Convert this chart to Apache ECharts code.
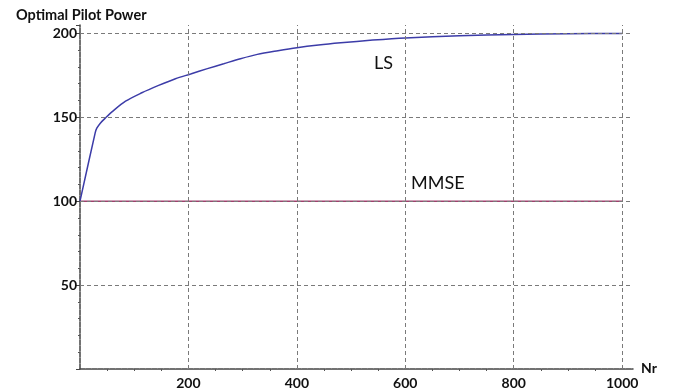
<!DOCTYPE html>
<html>
<head>
<meta charset="utf-8">
<script src="https://cdn.jsdelivr.net/npm/echarts@6/dist/echarts.min.js"></script>
<style>html,body{margin:0;padding:0;background:#fff}#c{width:682px;height:390px}</style>
</head>
<body>
<div id="c"></div>
<script>
// Data
const lsNr  = [0, 28, 31, 37.5, 47, 60, 84, 114, 145, 176, 204, 235, 265, 296, 327, 365, 400, 440, 481, 540, 600, 700, 800, 900, 1000];
const lsVal = [100, 140.7, 143.5, 146.5, 149.6, 153.5, 159.6, 164.6, 169, 173, 175.8, 179, 181.9, 184.9, 187.5, 189.7, 191.5, 193.1, 194.4, 196, 197.3, 198.6, 199.4, 199.8, 200];
const mmseNr  = [0, 1000];
const mmseVal = [100, 100];
const xTicks = [200, 400, 600, 800, 1000];
const yTicks = [50, 100, 150, 200];
const titleText = 'Optimal Pilot Power';
const xName = 'Nr';
const lsLabel = {name: 'LS', at: [560, 182]};
const mmseLabel = {name: 'MMSE', at: [660, 111]};

const FONT = 'Lato, "Open Sans", sans-serif';
const chart = echarts.init(document.getElementById('c'), null, {renderer: 'canvas'});

const grid = [].concat(
  xTicks.map(v => ({xAxis: v})),
  yTicks.map(v => ({yAxis: v}))
);

function textMark(lbl) {
  return {
    symbol: 'circle', symbolSize: 1, silent: true,
    itemStyle: {color: 'rgba(0,0,0,0)'},
    label: {show: true, position: 'inside', formatter: lbl.name, fontFamily: FONT, fontSize: 18, color: '#111'},
    data: [{coord: lbl.at}]
  };
}

chart.setOption({
  animation: false,
  backgroundColor: '#fff',
  title: {
    text: titleText, left: 11, top: 3,
    textStyle: {fontFamily: FONT, fontWeight: 'bold', fontSize: 14.5, color: '#111'}
  },
  grid: {left: 80, top: 25, width: 553, height: 344, containLabel: false},
  xAxis: {
    type: 'value', min: 0, max: 1020, interval: 200,
    name: xName, nameLocation: 'end', nameGap: 8,
    nameTextStyle: {fontFamily: FONT, fontWeight: 'bold', fontSize: 14, color: '#111', verticalAlign: 'bottom', padding: [0, 0, -6, 0]},
    axisLine: {show: true, lineStyle: {color: '#444', width: 1.5, type: [5, 1]}},
    axisTick: {show: false},
    minorTick: {show: true, splitNumber: 4, length: 2, lineStyle: {color: '#555'}},
    splitLine: {show: false},
    axisLabel: {
      fontFamily: FONT, fontWeight: 'bold', fontSize: 14, color: '#111', margin: 7,
      formatter: v => xTicks.indexOf(v) >= 0 ? String(v) : ''
    }
  },
  yAxis: {
    type: 'value', min: 0, max: 205, interval: 50,
    axisLine: {show: true, lineStyle: {color: '#444', width: 1.5, type: [5, 1]}},
    axisTick: {show: true, length: 4, inside: false, lineStyle: {color: '#444'}},
    minorTick: {show: true, splitNumber: 5, length: 2, lineStyle: {color: '#555'}},
    splitLine: {show: false},
    axisLabel: {
      fontFamily: FONT, fontWeight: 'bold', fontSize: 14, color: '#111', margin: 3,
      formatter: v => yTicks.indexOf(v) >= 0 ? String(v) : ''
    }
  },
  series: [
    {
      type: 'line', data: [], z: 1, silent: true,
      markLine: {
        silent: true, symbol: 'none', animation: false,
        label: {show: false},
        lineStyle: {color: '#7a7a7a', width: 1, type: [4, 3]},
        data: grid
      }
    },
    {
      name: 'MMSE', type: 'line', z: 3,
      data: mmseNr.map((x, i) => [x, mmseVal[i]]),
      showSymbol: false, lineStyle: {color: '#a0406e', width: 1.5},
      markPoint: textMark(mmseLabel)
    },
    {
      name: 'LS', type: 'line', z: 4,
      data: lsNr.map((x, i) => [x, lsVal[i]]),
      smooth: 0.3,
      showSymbol: false, lineStyle: {color: '#3c3ca8', width: 1.5},
      markPoint: textMark(lsLabel)
    }
  ]
});
</script>
</body>
</html>
